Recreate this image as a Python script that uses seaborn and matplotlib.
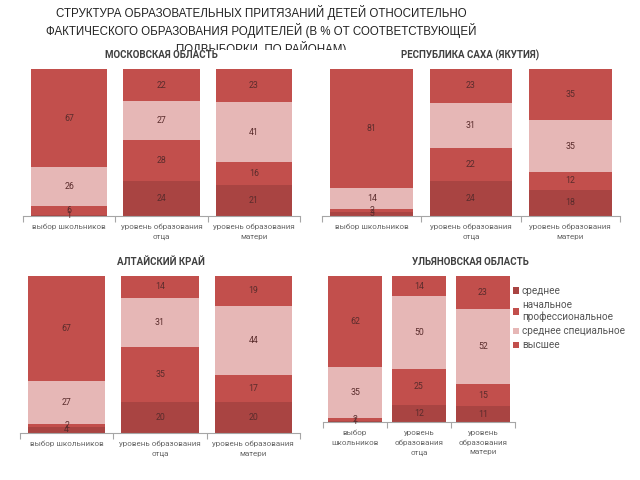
import matplotlib
matplotlib.use('Agg')
import matplotlib.pyplot as plt
import seaborn as sns
import numpy as np
import pandas as pd
from matplotlib.patches import Patch, Rectangle

sns.set_theme(style='white')
plt.rcParams['font.family'] = ['Roboto', 'DejaVu Sans']

# ---------------- data ----------------
title_lines = [
    "СТРУКТУРА ОБРАЗОВАТЕЛЬНЫХ ПРИТЯЗАНИЙ ДЕТЕЙ ОТНОСИТЕЛЬНО",
    "ФАКТИЧЕСКОГО ОБРАЗОВАНИЯ РОДИТЕЛЕЙ (В % ОТ СООТВЕТСТВУЮЩЕЙ",
    "ПОДВЫБОРКИ, ПО РАЙОНАМ)",
]
regions = ["МОСКОВСКАЯ ОБЛАСТЬ", "РЕСПУБЛИКА САХА (ЯКУТИЯ)",
           "АЛТАЙСКИЙ КРАЙ", "УЛЬЯНОВСКАЯ ОБЛАСТЬ"]
groups = ["выбор школьников", "уровень образования отца", "уровень образования матери"]
tick_labels_wide = ["выбор школьников", "уровень образования\nотца", "уровень образования\nматери"]
tick_labels_narrow = ["выбор\nшкольников", "уровень\nобразования\nотца", "уровень\nобразования\nматери"]
levels = ["среднее", "начальное\nпрофессиональное", "среднее специальное", "высшее"]

# values per group (выбор, отец, мать), bottom to top
moscow_secondary   = [1, 24, 21]
moscow_vocational  = [6, 28, 16]
moscow_special     = [26, 27, 41]
moscow_higher      = [67, 22, 23]

yakutia_secondary  = [3, 24, 18]
yakutia_vocational = [2, 22, 12]
yakutia_special    = [14, 31, 35]
yakutia_higher     = [81, 23, 35]

altai_secondary    = [4, 20, 20]
altai_vocational   = [2, 35, 17]
altai_special      = [27, 31, 44]
altai_higher       = [67, 14, 19]

ulyanovsk_secondary  = [1, 12, 11]
ulyanovsk_vocational = [2, 25, 15]
ulyanovsk_special    = [35, 50, 52]
ulyanovsk_higher     = [62, 14, 23]

colors = ["#A94442", "#C24F4C", "#E6B7B6", "#C24F4C"]

panels = [
    (moscow_secondary, moscow_vocational, moscow_special, moscow_higher),
    (yakutia_secondary, yakutia_vocational, yakutia_special, yakutia_higher),
    (altai_secondary, altai_vocational, altai_special, altai_higher),
    (ulyanovsk_secondary, ulyanovsk_vocational, ulyanovsk_special, ulyanovsk_higher),
]

# ---------------- layout ----------------
W, H = 640, 480
fig = plt.figure(figsize=(6.4, 4.8), dpi=100)

def px_axes(x0, x1, ytop, ybot):
    return fig.add_axes([x0 / W, 1 - ybot / H, (x1 - x0) / W, (ybot - ytop) / H])

axes_px = [
    (23, 300, 69, 216),
    (322, 620, 69, 216),
    (20, 300, 276, 433),
    (323, 515, 276, 422),
]
title_pos = [(161, 55), (470, 55), (161, 262), (470, 262)]
label_color = "#5a2c2c"
gray = "#a6a6a6"

for k, (vals, box) in enumerate(zip(panels, axes_px)):
    ax = px_axes(*box)
    raw = np.array(vals, dtype=float)  # shape (4 levels, 3 groups)
    share = raw / raw.sum(axis=0) * 100
    cum = np.cumsum(share, axis=0)
    df = pd.DataFrame({"group": groups})
    for i in range(4):
        df[f"cum{i}"] = cum[i]
    for i in reversed(range(4)):
        sns.barplot(data=df, x="group", y=f"cum{i}", order=groups, color=colors[i],
                    saturation=1, width=0.83, errorbar=None, ax=ax, linewidth=0)
    for i in range(4):
        for j in range(3):
            yc = cum[i, j] - share[i, j] / 2
            ax.text(j, yc, f"{int(raw[i, j])}", ha="center", va="center",
                    fontsize=6.3, color=label_color)
    ax.set_xlim(-0.5, 2.5)
    ax.set_ylim(0, 100)
    ax.set_yticks([])
    ax.set_xlabel("")
    ax.set_ylabel("")
    ax.set_xticks(range(3))
    ax.set_xticklabels(tick_labels_narrow if k == 3 else tick_labels_wide,
                       linespacing=1.7)
    ax.set_xticks([-0.5, 0.5, 1.5, 2.5], minor=True)
    ax.tick_params(axis="x", which="major", length=0, pad=5.5, labelsize=5.8,
                   labelcolor="#666666", bottom=True)
    ax.tick_params(axis="x", which="minor", length=4, width=0.8, color=gray,
                   direction="out", bottom=True)
    for s in ["top", "left", "right"]:
        ax.spines[s].set_visible(False)
    ax.spines["bottom"].set_color(gray)
    ax.spines["bottom"].set_linewidth(0.8)
    tx, ty = title_pos[k]
    fig.text(tx / W, 1 - ty / H, regions[k], ha="center", va="center",
             fontsize=7, fontweight="bold", color="#404040", zorder=6)

# main title
for n, (line, yc) in enumerate(zip(title_lines, [12.5, 30.5, 48.5])):
    fig.text(261 / W, 1 - yc / H, line, ha="center", va="center",
             fontsize=8.3, color="#222222", zorder=3,
             family=["Liberation Sans", "DejaVu Sans"])

# the third title line is partly hidden behind the chart area in the reference
fig.add_artist(Rectangle((150 / W, 1 - 66 / H), 250 / W, 15.5 / H,
                         transform=fig.transFigure, facecolor="white",
                         edgecolor="none", zorder=5))

# legend
handles = [Patch(facecolor=c, edgecolor="none") for c in colors]
fig.legend(handles, levels, loc="upper left", bbox_to_anchor=(513 / W, 1 - 286 / H),
           frameon=False, fontsize=7.2, labelcolor="#555555",
           handlelength=0.6, handleheight=0.6, handletextpad=0.3,
           labelspacing=0.4, borderpad=0, borderaxespad=0)

fig.savefig("out.png", dpi=100, facecolor="white")
